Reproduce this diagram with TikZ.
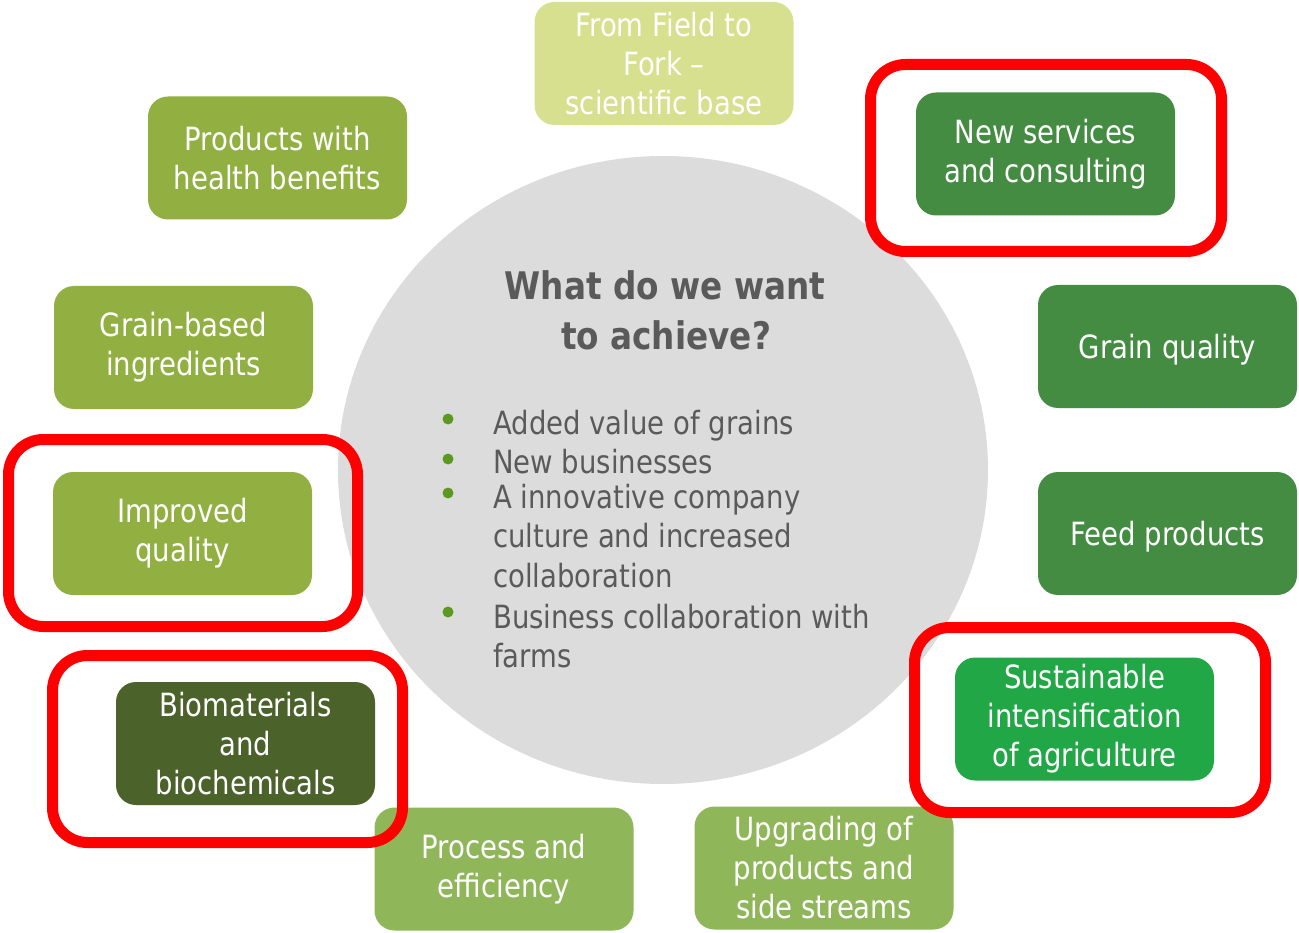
\documentclass[tikz,border=0pt]{standalone}
\usepackage{fontspec}
\setmainfont{DejaVu Sans}[FakeStretch=0.86]
\usetikzlibrary{shapes.geometric}
\definecolor{paleg}{HTML}{D7E08F}
\definecolor{midg}{HTML}{92B041}
\definecolor{darkg}{HTML}{438C42}
\definecolor{oliveg}{HTML}{4B622A}
\definecolor{brightg}{HTML}{22A746}
\definecolor{lightg}{HTML}{8FB75A}
\definecolor{circg}{HTML}{DCDCDC}
\definecolor{textgray}{HTML}{5A5A5A}
\definecolor{bulletg}{HTML}{5B9A1F}
\definecolor{redframe}{HTML}{FF0000}
\begin{document}
\begin{tikzpicture}[x=1pt,y=-1pt,
  box/.style={rounded corners=20pt, text=white, align=center, inner sep=0pt,
    font=\fontsize{32}{39}\selectfont, minimum width=259pt, minimum height=123pt},
  frame/.style={draw=redframe, line width=11pt, rounded corners=35pt, inner sep=0pt},
  btext/.style={anchor=base west, inner sep=0pt, text=textgray, font=\fontsize{32}{39}\selectfont},
  ttext/.style={anchor=base, inner sep=0pt, text=textgray, font=\bfseries\fontsize{38}{50}\selectfont},
  dot/.style={circle, fill=bulletg, inner sep=0pt, minimum size=11pt}]
\useasboundingbox (0,0) rectangle (1299,933);
% central ellipse
\node[ellipse, fill=circg, inner sep=0pt, minimum width=650pt, minimum height=628pt] (hub) at (663,470) {};
% title
\node[ttext] (t1) at (665,300) {What do we want};
\node[ttext] (t2) at (666,350) {to achieve?};
% bullets
\node[dot] (d1) at (448,419) {};
\node[dot] (d2) at (448,459) {};
\node[dot] (d3) at (448,493) {};
\node[dot] (d4) at (448,612) {};
\node[btext] (l1) at (493,434) {Added value of grains};
\node[btext] (l2) at (493,473) {New businesses};
\node[btext] (l3) at (493,508) {A innovative company};
\node[btext] (l4) at (493,547) {culture and increased};
\node[btext] (l5) at (493,587) {collaboration};
\node[btext] (l6) at (493,628) {Business collaboration with};
\node[btext] (l7) at (493,667) {farms};
% boxes
\node[box, fill=paleg] (fork) at (664,63.5) {From Field to\\Fork –\\scientific base};
\node[box, fill=midg] (health) at (277.5,158) {Products with\\health benefits};
\node[box, fill=darkg] (services) at (1045.5,154) {New services\\and consulting};
\node[box, fill=midg] (ingred) at (183.5,347.5) {Grain-based\\ingredients};
\node[box, fill=darkg, text depth=0pt] (gquality) at (1167.5,346.5) {Grain quality};
\node[box, fill=midg] (improved) at (182.5,533.5) {Improved\\quality};
\node[box, fill=darkg, text depth=0pt] (feed) at (1167.5,533.5) {Feed products};
\node[box, fill=oliveg] (bio) at (245.5,743.5) {Biomaterials\\and\\biochemicals};
\node[box, fill=brightg] (sust) at (1084.5,719) {Sustainable\\intensification\\of agriculture};
\node[box, fill=lightg] (process) at (504,869) {Process and\\efficiency};
\node[box, fill=lightg] (upgrade) at (824,868) {Upgrading of\\products and\\side streams};
% red frames
\node[frame, minimum width=351pt, minimum height=187pt] (f1) at (1046,158) {};
\node[frame, minimum width=349pt, minimum height=187pt] (f2) at (183,533) {};
\node[frame, minimum width=350pt, minimum height=187pt] (f3) at (227.5,749) {};
\node[frame, minimum width=351pt, minimum height=185pt] (f4) at (1090,720) {};
\end{tikzpicture}
\end{document}
